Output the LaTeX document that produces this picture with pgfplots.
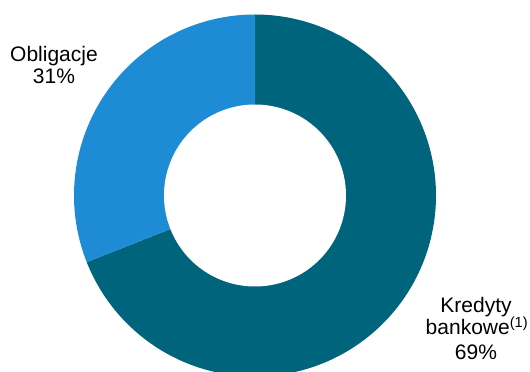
\documentclass[border=0pt]{standalone}
\usepackage{pgfplots}
\pgfplotsset{compat=1.18}
\usepackage{fontspec}
\setmainfont{Liberation Sans}
\definecolor{darkc}{HTML}{00657C}
\definecolor{lightc}{HTML}{1E8CD5}
\begin{document}
\begin{tikzpicture}
% shares (percent)
\def\kredyty{69}
\def\obligacje{31}
\pgfmathsetmacro{\split}{90-3.6*\kredyty}
\begin{axis}[
  x=1pt, y=1pt, scale only axis,
  xmin=0, xmax=530, ymin=0, ymax=372,
  hide axis, clip=true,
]
% Kredyty bankowe: clockwise from 12 o'clock
\addplot[fill=darkc, draw=none, domain=\split:90, samples=240, variable=\t]
  ({255+181*cos(t)}, {176.5+181*sin(t)}) -- (axis cs:255,176.5) -- cycle;
% Obligacje
\addplot[fill=lightc, draw=none, domain=90:\split+360, samples=120, variable=\t]
  ({255+181*cos(t)}, {176.5+181*sin(t)}) -- (axis cs:255,176.5) -- cycle;
% hole
\addplot[fill=white, draw=none, domain=0:360, samples=240, variable=\t]
  ({255+91*cos(t)}, {176.5+91*sin(t)}) -- cycle;
\node[anchor=base, font=\fontsize{21}{23}\selectfont] at (axis cs:54,310) {Obligacje};
\node[anchor=base, font=\fontsize{21}{23}\selectfont] at (axis cs:54,288) {31\%};
\node[anchor=base, font=\fontsize{21}{23}\selectfont] at (axis cs:476,59) {Kredyty};
\node[anchor=base, font=\fontsize{21}{23}\selectfont] at (axis cs:477,37) {bankowe\textsuperscript{(1)}};
\node[anchor=base, font=\fontsize{21}{23}\selectfont] at (axis cs:476,12) {69\%};
\end{axis}
\pgfresetboundingbox
\useasboundingbox (current axis.south west) rectangle (current axis.north east);
\end{tikzpicture}
\end{document}
